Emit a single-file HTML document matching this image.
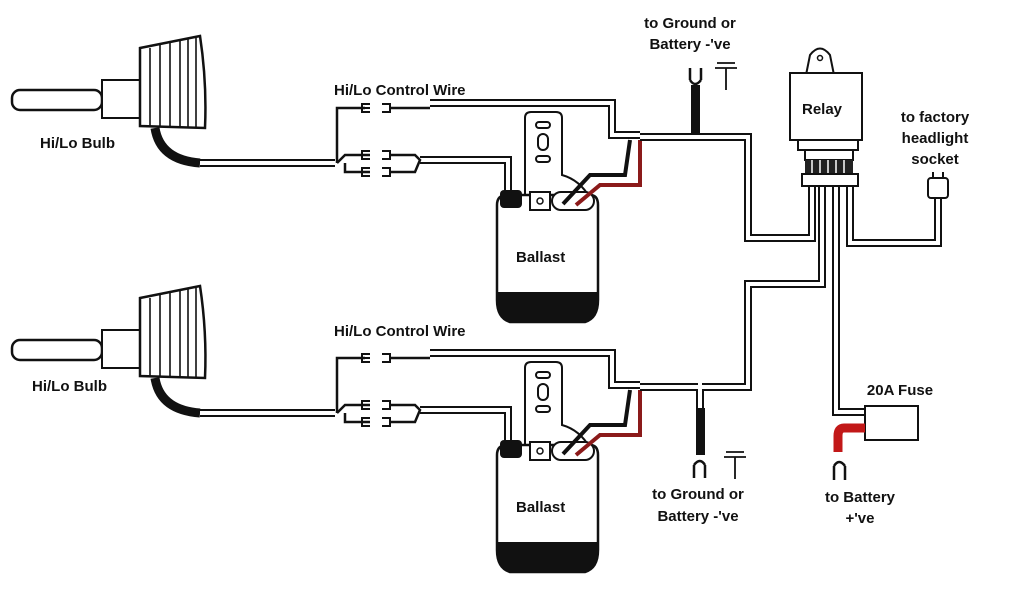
<!DOCTYPE html>
<html><head><meta charset="utf-8"><style>
html,body{margin:0;padding:0;background:#fff;}
svg{display:block}
text{font-family:"Liberation Sans",sans-serif;font-weight:bold;font-size:15px;fill:#111}
</style></head><body>
<svg width="1024" height="600" viewBox="0 0 1024 600" xmlns="http://www.w3.org/2000/svg">
<defs>
<g id="unit">
  <rect x="12" y="90" width="90" height="20" rx="8" fill="#fff" stroke="#111" stroke-width="2.5"/>
  <rect x="102" y="80" width="38" height="38" fill="#fff" stroke="#111" stroke-width="2"/>
  <path d="M140 48 L200 36 Q207 82 205 128 L140 126 Z" fill="#fff" stroke="#111" stroke-width="2.5"/>
  <g stroke="#111" stroke-width="1.6">
    <line x1="150" y1="48" x2="150" y2="126"/><line x1="160" y1="45" x2="160" y2="126"/>
    <line x1="170" y1="43" x2="170" y2="127"/><line x1="180" y1="41" x2="180" y2="127"/>
    <line x1="188" y1="39" x2="188" y2="127"/><line x1="196" y1="38" x2="196" y2="128"/>
  </g>
  <path d="M155 128 Q160 160 200 163" fill="none" stroke="#111" stroke-width="9"/>
  <g fill="none" stroke="#111" stroke-width="8">
    <path d="M200 163 L335 163"/>
    <path d="M430 103 L612 103 L612 135 L640 135"/>
    <path d="M420 160 L508 160 L508 200"/>
  </g>
  <g fill="none" stroke="#fff" stroke-width="4">
    <path d="M200 163 L335 163"/>
    <path d="M430 103 L612 103 L612 135 L640 135"/>
    <path d="M420 160 L508 160 L508 200"/>
  </g>
  <g fill="none" stroke="#111" stroke-width="2.5">
    <path d="M337 163 L337 108 L365 108"/>
    <path d="M390 108 L430 108"/>
    <path d="M337 163 L345 155 L370 155 M345 163 L345 172 L370 172"/>
    <path d="M390 155 L415 155 L420 160 L415 172 L390 172"/>
  </g>
  <g fill="none" stroke="#111" stroke-width="2">
    <path d="M370 104 h-8 v8 h8 M362 108 h8"/><path d="M382 104 h8 v8 h-8"/>
    <path d="M370 151 h-8 v8 h8"/><path d="M382 151 h8 v8 h-8"/>
    <path d="M370 168 h-8 v8 h8"/><path d="M382 168 h8 v8 h-8"/>
  </g>
  <path d="M525 118 Q525 112 531 112 L556 112 Q562 112 562 118 L562 175 Q580 180 590 198 L525 198 Z" fill="#fff" stroke="#111" stroke-width="2"/>
  <rect x="536" y="122" width="14" height="6" rx="3" fill="none" stroke="#111" stroke-width="2"/>
  <rect x="538" y="134" width="10" height="16" rx="5" fill="none" stroke="#111" stroke-width="2"/>
  <rect x="536" y="156" width="14" height="6" rx="3" fill="none" stroke="#111" stroke-width="2"/>
  <path d="M497 205 Q497 195 507 195 L590 195 Q598 195 598 205 L598 300 Q598 318 585 322 L510 322 Q497 318 497 300 Z" fill="#fff" stroke="#111" stroke-width="2.5"/>
  <path d="M497 292 L598 292 L598 302 Q598 318 585 322 L510 322 Q497 318 497 302 Z" fill="#111"/>
  <rect x="500" y="190" width="22" height="18" rx="4" fill="#111"/>
  <rect x="530" y="192" width="20" height="18" fill="#fff" stroke="#111" stroke-width="2"/>
  <circle cx="540" cy="201" r="3" fill="none" stroke="#111" stroke-width="1.5"/>
  <rect x="552" y="192" width="42" height="18" rx="9" fill="#fff" stroke="#111" stroke-width="2"/>
  <path d="M563 204 L590 175 L625 175 L630 140" fill="none" stroke="#111" stroke-width="4"/>
  <path d="M576 205 L600 185 L640 185 L640 140" fill="none" stroke="#8b1a1a" stroke-width="4"/>
  <text x="516" y="262">Ballast</text>
</g>
</defs>

<use href="#unit"/>
<use href="#unit" transform="translate(0,250)"/>

<g fill="none" stroke="#111" stroke-width="8">
  <path d="M640 137 L748 137 L748 238 L812 238 L812 185"/>
  <path d="M640 387 L748 387 L748 284 L822 284 L822 185"/>
  <path d="M836 185 L836 412 L865 412"/>
  <path d="M850 185 L850 243 L938 243 L938 198"/>
  <path d="M700 387 L700 410"/>
</g>
<g fill="none" stroke="#fff" stroke-width="4">
  <path d="M640 137 L748 137 L748 238 L812 238 L812 185"/>
  <path d="M640 387 L748 387 L748 284 L822 284 L822 185"/>
  <path d="M836 185 L836 412 L865 412"/>
  <path d="M850 185 L850 243 L938 243 L938 198"/>
  <path d="M700 383 L700 408"/>
</g>
<rect x="691" y="85" width="9" height="48" fill="#111"/>
<path d="M690 80 L690 68 M701 80 L701 68 M690 80 Q695 88 701 80" fill="none" stroke="#111" stroke-width="2.5"/>
<path d="M717 63 h18 M715 68 h22 M726 68 v22" stroke="#111" stroke-width="1.8"/>
<rect x="696" y="408" width="9" height="47" fill="#111"/>
<path d="M694 478 L694 465 M705 478 L705 465 M694 465 Q700 457 705 465" fill="none" stroke="#111" stroke-width="2.5"/>
<path d="M726 452 h18 M724 457 h22 M735 457 v22" stroke="#111" stroke-width="1.8"/>
<path d="M806 75 L810 55 Q820 42 830 55 L834 75" fill="#fff" stroke="#111" stroke-width="2"/>
<circle cx="820" cy="58" r="2.5" fill="none" stroke="#111" stroke-width="1.5"/>
<rect x="790" y="73" width="72" height="67" fill="#fff" stroke="#111" stroke-width="2"/>
<rect x="798" y="140" width="60" height="10" fill="#fff" stroke="#111" stroke-width="2"/>
<rect x="805" y="150" width="48" height="10" fill="#fff" stroke="#111" stroke-width="2"/>
<rect x="805" y="160" width="48" height="14" fill="#222"/>
<g stroke="#fff" stroke-width="1.5"><line x1="812" y1="160" x2="812" y2="174"/><line x1="820" y1="160" x2="820" y2="174"/><line x1="828" y1="160" x2="828" y2="174"/><line x1="836" y1="160" x2="836" y2="174"/><line x1="844" y1="160" x2="844" y2="174"/></g>
<rect x="802" y="174" width="56" height="12" fill="#fff" stroke="#111" stroke-width="2"/>
<text x="802" y="114">Relay</text>
<rect x="928" y="178" width="20" height="20" rx="3" fill="#fff" stroke="#111" stroke-width="2"/>
<path d="M933 178 v-6 M943 178 v-6" stroke="#111" stroke-width="2"/>
<rect x="865" y="406" width="53" height="34" fill="#fff" stroke="#111" stroke-width="2"/>
<path d="M865 428 L844 428 Q838 428 838 436 L838 452" fill="none" stroke="#c21818" stroke-width="9"/>
<path d="M834 480 L834 466 M845 480 L845 466 M834 466 Q839 458 845 466" fill="none" stroke="#111" stroke-width="2.5"/>

<text x="690" y="28" text-anchor="middle">to Ground or</text>
<text x="690" y="49" text-anchor="middle">Battery -'ve</text>
<text x="334" y="95">Hi/Lo Control Wire</text>
<text x="334" y="336">Hi/Lo Control Wire</text>
<text x="40" y="148">Hi/Lo Bulb</text>
<text x="32" y="391">Hi/Lo Bulb</text>
<text x="935" y="122" text-anchor="middle">to factory</text>
<text x="935" y="143" text-anchor="middle">headlight</text>
<text x="935" y="164" text-anchor="middle">socket</text>
<text x="900" y="395" text-anchor="middle">20A Fuse</text>
<text x="698" y="499" text-anchor="middle">to Ground or</text>
<text x="698" y="521" text-anchor="middle">Battery -'ve</text>
<text x="860" y="502" text-anchor="middle">to Battery</text>
<text x="860" y="523" text-anchor="middle">+'ve</text>
</svg>
</body></html>
